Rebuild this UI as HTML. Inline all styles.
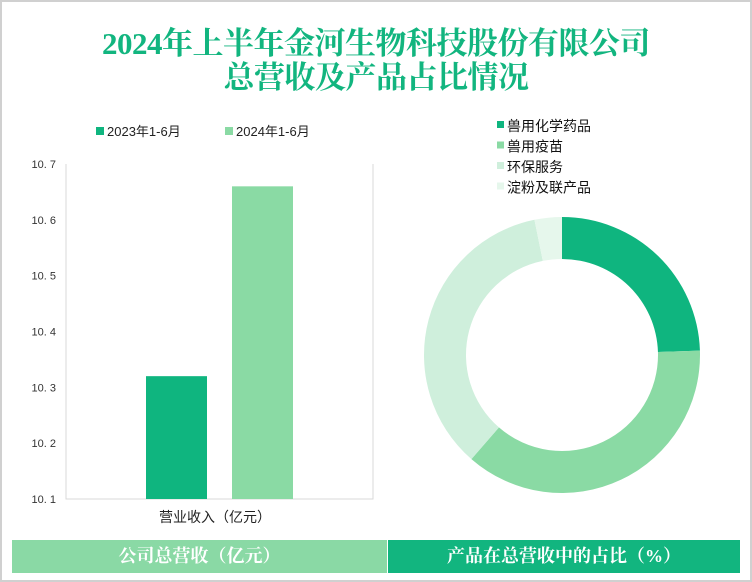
<!DOCTYPE html>
<html><head><meta charset="utf-8"><style>
body{margin:0;width:752px;height:582px;background:#fff;font-family:"Liberation Sans","Noto Sans CJK SC",sans-serif;position:relative;overflow:hidden}
.frame{position:absolute;left:0;top:0;width:748px;height:578px;border:2px solid #d0d0d0}
.title{position:absolute;left:0;width:752px;text-align:center;color:#12b57f;font-family:"Liberation Serif","Noto Serif CJK SC",serif;font-weight:bold;font-size:31px;line-height:34px;letter-spacing:-0.5px}
.band{position:absolute;top:540px;height:33px;color:#fff;font-family:"Liberation Serif","Noto Serif CJK SC",serif;font-weight:bold;font-size:18px;line-height:33px;text-align:center}
</style></head><body>
<div class="frame"></div>
<div class="title" style="top:27px">2024年上半年金河生物科技股份有限公司</div>
<div class="title" style="top:61px">总营收及产品占比情况</div>
<svg id="bar" width="752" height="582" style="position:absolute;left:0;top:0"></svg>
<div class="band" style="left:12px;width:375px;background:#8ad9a5">公司总营收（亿元）</div>
<div class="band" style="left:388px;width:352px;background:#12b57f">产品在总营收中的占比（%）</div>
<script>
const barSeries=["2023年1-6月","2024年1-6月"];
const barValues=[10.32,10.66];
const barColors=["#0fb57f","#8adaa4"];
const yTicks=[10.1,10.2,10.3,10.4,10.5,10.6,10.7];
const pieLabels=["兽用化学药品","兽用疫苗","环保服务","淀粉及联产品"];
const pieValues=[24.5,36.9,35.4,3.2];
const pieColors=["#0fb57f","#8adaa4","#cfefdc","#e6f7ec"];
const NS="http://www.w3.org/2000/svg";
const svg=document.getElementById('bar');
function mk(t,a){const e=document.createElementNS(NS,t);for(const k in a)e.setAttribute(k,a[k]);svg.appendChild(e);return e;}
const y0=499,y1=164,ymin=10.1,ymax=10.7;
function ys(v){return y0-(v-ymin)/(ymax-ymin)*(y0-y1);}
let ax=mk('polyline',{points:"66,164 66,499 373,499 373,164",fill:"none",stroke:"#d9d9d9","stroke-width":1});

yTicks.forEach(t=>{const e=mk('text',{x:56,y:ys(t)+4,"text-anchor":"end","font-size":11,fill:"#333"});e.textContent=t.toFixed(1).replace('.','. ');
});
barValues.forEach((v,i)=>{const x=146+i*86;const r=mk('rect',{x:x,y:ys(v),width:61,height:y0-ys(v),fill:barColors[i]});

const lx=96+i*129;const s=mk('rect',{x:lx,y:127,width:8,height:8,fill:barColors[i]});

const t=mk('text',{x:lx+11,y:136,"font-size":13,fill:"#222"});t.textContent=barSeries[i];
});
const xl=mk('text',{x:215,y:522,"text-anchor":"middle","font-size":14,fill:"#222"});xl.textContent="营业收入（亿元）";

const cx=562,cy=355,R=138,r=96;const tot=pieValues.reduce((a,b)=>a+b,0);let acc=0;
function pt(a,rr){return [cx+rr*Math.sin(a),cy-rr*Math.cos(a)];}
pieValues.forEach((v,i)=>{const a0=acc/tot*2*Math.PI;acc+=v;const a1=acc/tot*2*Math.PI;const lg=(a1-a0)>Math.PI?1:0;
const p0=pt(a0,R),p1=pt(a1,R),q1=pt(a1,r),q0=pt(a0,r);
const p=mk('path',{d:`M${p0} A${R},${R} 0 ${lg} 1 ${p1} L${q1} A${r},${r} 0 ${lg} 0 ${q0} Z`,fill:pieColors[i]});

const s=mk('rect',{x:497,y:121+i*20.5,width:7,height:7,fill:pieColors[i]});

const t=mk('text',{x:507,y:131+i*20.5,"font-size":14,fill:"#111"});t.textContent=pieLabels[i];
});
</script>
</body></html>
